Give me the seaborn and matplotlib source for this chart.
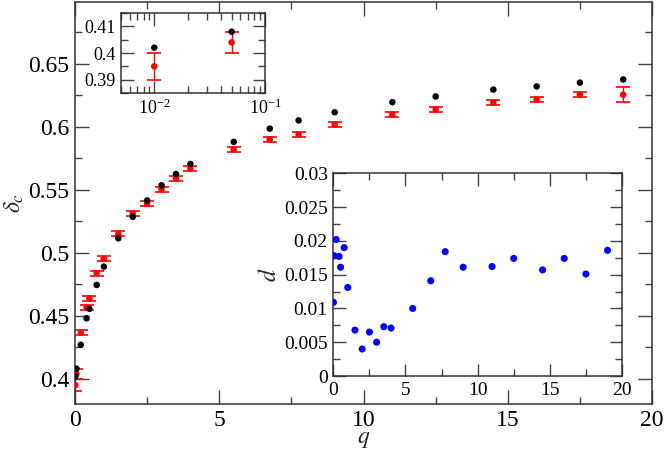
import numpy as np
import pandas as pd
import matplotlib
matplotlib.use("Agg")
import matplotlib.pyplot as plt
import seaborn as sns
from matplotlib.ticker import FuncFormatter, MultipleLocator, LogLocator, NullFormatter

# data
q = [0.01, 0.05, 0.2, 0.4, 0.5, 0.75, 1.0, 1.5, 2.0, 2.5, 3.0, 3.5, 4.0,
     5.5, 6.75, 7.75, 9.0, 11.0, 12.5, 14.5, 16.0, 17.5, 19.0]
delta_black = [0.402, 0.408, 0.427, 0.448, 0.4555, 0.4745, 0.489, 0.5115, 0.5285,
               0.5415, 0.5535, 0.5625, 0.5705, 0.588, 0.5985, 0.605, 0.6115,
               0.6195, 0.624, 0.6295, 0.632, 0.635, 0.6375]
delta_red = [0.395, 0.404, 0.4365, 0.4565, 0.4638, 0.4838, 0.4952, 0.515, 0.531,
             0.539, 0.5505, 0.559, 0.567, 0.582, 0.590, 0.594, 0.6018, 0.6096,
             0.6136, 0.6194, 0.6216, 0.6256, 0.6254]
delta_err = [0.005, 0.004, 0.002, 0.002, 0.002, 0.002, 0.002, 0.002, 0.002,
             0.002, 0.002, 0.002, 0.002, 0.002, 0.002, 0.002, 0.002, 0.002,
             0.002, 0.002, 0.002, 0.002, 0.006]
d_vals = [0.0109, 0.0178, 0.0202, 0.0177, 0.0161, 0.0190, 0.0131, 0.0068, 0.0040,
          0.0065, 0.0050, 0.0073, 0.0071, 0.0100, 0.0141, 0.0184, 0.0161,
          0.0162, 0.0174, 0.0157, 0.0174, 0.0151, 0.0186]

df = pd.DataFrame({"q": q, "black": delta_black, "red": delta_red,
                   "err": delta_err, "d": d_vals})
small = df[df["q"] < 0.1]

sns.set_style("ticks")
plt.rcParams["font.family"] = "serif"
plt.rcParams["font.serif"] = ["Liberation Serif", "DejaVu Serif"]
plt.rcParams["mathtext.fontset"] = "stix"

fmt = FuncFormatter(lambda v, p: "%g" % round(v, 4))


def style_axes(ax, size, major=10, minor=5):
    ax.tick_params(which="both", direction="in", top=True, right=True,
                   labelsize=size, colors="#444444", labelcolor="black", width=1)
    ax.tick_params(which="major", length=major, pad=4)
    ax.tick_params(which="minor", length=minor)
    for s in ax.spines.values():
        s.set_color("#333333")
        s.set_linewidth(1.1)


def draw_pairs(ax, data, ms):
    ax.errorbar(data["q"], data["red"], yerr=data["err"], fmt="none",
                ecolor="red", elinewidth=1, capsize=5, capthick=1.2, zorder=2)
    sns.scatterplot(data=data, x="q", y="red", color="red", s=ms,
                    edgecolor="none", ax=ax, zorder=3)
    sns.scatterplot(data=data, x="q", y="black", color="black", s=ms,
                    edgecolor="none", ax=ax, zorder=4)


fig = plt.figure(figsize=(6.64, 4.5), dpi=100)
ax = fig.add_axes([0.113, 0.1022, 0.869, 0.8934])
draw_pairs(ax, df, 22)
ax.set_xlim(0, 20)
ax.set_ylim(0.38, 0.699)
ax.xaxis.set_major_locator(MultipleLocator(5))
ax.xaxis.set_minor_locator(MultipleLocator(2.5))
ax.yaxis.set_major_locator(MultipleLocator(0.05))
ax.yaxis.set_minor_locator(MultipleLocator(0.025))
ax.yaxis.set_major_formatter(fmt)
style_axes(ax, 17)
ax.set_xlabel("$q$", fontsize=17, labelpad=-1)
ax.set_ylabel(r"$\delta_c$", fontsize=17, labelpad=2)

# inset: small q on log scale
ax1 = fig.add_axes([0.1822, 0.7933, 0.2168, 0.1778])
draw_pairs(ax1, small, 22)
ax1.set_xscale("log")
ax1.set_xlim(0.005, 0.1)
ax1.set_ylim(0.385, 0.415)
ax1.xaxis.set_major_locator(LogLocator(base=10))
ax1.xaxis.set_minor_locator(LogLocator(base=10, subs=np.arange(2, 10)))
ax1.xaxis.set_minor_formatter(NullFormatter())
ax1.yaxis.set_major_locator(MultipleLocator(0.01))
ax1.yaxis.set_minor_locator(MultipleLocator(0.005))
ax1.yaxis.set_major_formatter(fmt)
style_axes(ax1, 13, major=9, minor=5)
ax1.set_xlabel("")
ax1.set_ylabel("")

# inset: distance d
ax2 = fig.add_axes([0.502, 0.1644, 0.4347, 0.4505])
sns.scatterplot(data=df, x="q", y="d", color="blue", s=26, edgecolor="none",
                ax=ax2, zorder=3)
ax2.set_xlim(0, 20)
ax2.set_ylim(0, 0.03)
ax2.xaxis.set_major_locator(MultipleLocator(5))
ax2.xaxis.set_minor_locator(MultipleLocator(2.5))
ax2.yaxis.set_major_locator(MultipleLocator(0.005))
ax2.yaxis.set_minor_locator(MultipleLocator(0.0025))
ax2.yaxis.set_major_formatter(fmt)
style_axes(ax2, 14, major=9, minor=5)
ax2.set_xlabel("")
ax2.set_ylabel("$d$", fontsize=17, labelpad=2)

fig.savefig("out.png", dpi=100)
